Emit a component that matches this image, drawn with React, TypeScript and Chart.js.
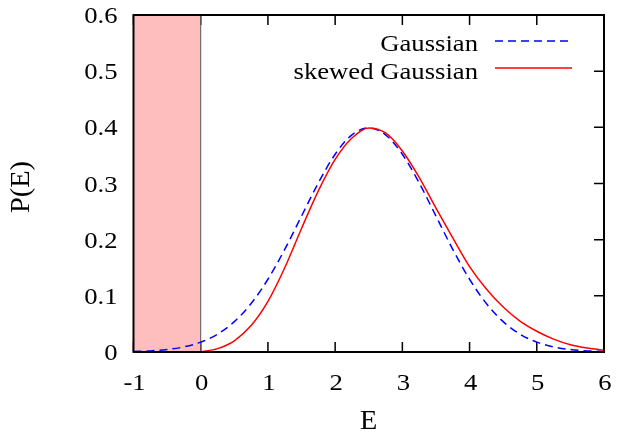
import React, { useEffect, useRef } from "react";
import { Chart, registerables } from "chart.js";

Chart.register(...registerables);

// E grid (0.25 step)
const gaussX = [-1, -0.75, -0.5, -0.25, 0, 0.25, 0.5, 0.75, 1, 1.25, 1.5, 1.75, 2, 2.25, 2.5, 2.75, 3, 3.25, 3.5, 3.75, 4, 4.25, 4.5, 4.75, 5, 5.25, 5.5, 5.75, 6];
const gaussY = [0.0009, 0.002, 0.0044, 0.0091, 0.0175, 0.0317, 0.054, 0.0863, 0.1295, 0.1827, 0.242, 0.3011, 0.3521, 0.3867, 0.3989, 0.3867, 0.3521, 0.3011, 0.242, 0.1827, 0.1295, 0.0863, 0.054, 0.0317, 0.0175, 0.0091, 0.0044, 0.002, 0.0009];

const skewX = [0, 0.25, 0.5, 0.75, 1, 1.25, 1.5, 1.75, 2, 2.25, 2.5, 2.75, 3, 3.25, 3.5, 3.75, 4, 4.25, 4.5, 4.75, 5, 5.25, 5.5, 5.75, 6];
const skewY = [0, 0.006, 0.02, 0.047, 0.09, 0.15, 0.22, 0.287, 0.343, 0.381, 0.399, 0.39, 0.358, 0.311, 0.256, 0.203, 0.152, 0.112, 0.08, 0.055, 0.037, 0.023, 0.013, 0.007, 0.003];

const shadeRange = [-1, 0];
const xTicks = [-1, 0, 1, 2, 3, 4, 5, 6];
const yTicks = [0, 0.1, 0.2, 0.3, 0.4, 0.5, 0.6];
const xTickLabels = ["-1", "0", "1", "2", "3", "4", "5", "6"];
const yTickLabels = ["0", "0.1", "0.2", "0.3", "0.4", "0.5", "0.6"];

const seriesLabels = ["Gaussian", "skewed Gaussian"];
const xTitle = "E";
const yTitle = "P(E)";
const FONT = "'Liberation Serif', 'Times New Roman', serif";
const SX = 1.16;

function txt(ctx: CanvasRenderingContext2D, s: string, x: number, y: number, align: CanvasTextAlign, size: number, sx: number, rot = 0) {
  ctx.save();
  ctx.translate(x, y);
  if (rot) ctx.rotate(rot);
  ctx.scale(sx, 1);
  ctx.font = `${size}px ${FONT}`;
  ctx.textAlign = align;
  ctx.textBaseline = "alphabetic";
  ctx.fillStyle = "#000";
  ctx.fillText(s, 0, 0);
  ctx.restore();
}

export default function App() {
  const ref = useRef<HTMLCanvasElement | null>(null);

  useEffect(() => {
    document.body.style.margin = "0";
    const canvas = ref.current!;
    const framePlugin = {
      id: "frame",
      beforeDatasetsDraw(chart: any) {
        const { ctx, chartArea: a, scales } = chart;
        ctx.save();
        ctx.strokeStyle = "#000";
        ctx.lineWidth = 1.5;
        const tl = 10;
        ctx.beginPath();
        xTicks.forEach((v) => {
          const px = scales.x.getPixelForValue(v);
          ctx.moveTo(px, a.bottom);
          ctx.lineTo(px, a.bottom - tl);
          ctx.moveTo(px, a.top);
          ctx.lineTo(px, a.top + tl);
        });
        yTicks.forEach((v) => {
          const py = scales.y.getPixelForValue(v);
          ctx.moveTo(a.left, py);
          ctx.lineTo(a.left + tl, py);
          ctx.moveTo(a.right, py);
          ctx.lineTo(a.right - tl, py);
        });
        ctx.stroke();
        ctx.restore();
      },
      afterDatasetsDraw(chart: any) {
        const { ctx, chartArea: a, scales } = chart;
        ctx.save();
        ctx.strokeStyle = "#000";
        ctx.lineWidth = 2;
        ctx.strokeRect(a.left, a.top, a.right - a.left, a.bottom - a.top);
        ctx.restore();

        // tick labels
        yTicks.forEach((v, i) => {
          const py = scales.y.getPixelForValue(v);
          txt(ctx, yTickLabels[i], a.left - 16, py + 8, "right", 23, SX);
        });
        xTicks.forEach((v, i) => {
          const px = scales.x.getPixelForValue(v);
          txt(ctx, xTickLabels[i], px + 1, a.bottom + 38, "center", 23, SX);
        });
        // axis titles
        txt(ctx, xTitle, (a.left + a.right) / 2, 429, "center", 27, 1.05);
        txt(ctx, yTitle, 29, 187, "center", 27, 1.05, -Math.PI / 2);

        // legend
        const entries = [
          { ds: chart.data.datasets[2], y: 51, ly: 41 },
          { ds: chart.data.datasets[3], y: 79, ly: 68 },
        ];
        entries.forEach((e) => {
          txt(ctx, e.ds.label, 478, e.y, "right", 23, SX);
          ctx.save();
          ctx.beginPath();
          ctx.setLineDash(e.ds.borderDash || []);
          ctx.strokeStyle = e.ds.borderColor;
          ctx.lineWidth = e.ds.borderWidth;
          ctx.moveTo(495, e.ly);
          ctx.lineTo(572, e.ly);
          ctx.stroke();
          ctx.restore();
        });
      },
    };

    const chart = new Chart(canvas, {
      type: "line",
      data: {
        datasets: [
          {
            label: "shade",
            data: shadeRange.map((x) => ({ x, y: yTicks[yTicks.length - 1] })),
            fill: "origin",
            backgroundColor: "rgb(255,190,190)",
            borderWidth: 0,
            pointRadius: 0,
            order: 10,
          },
          {
            label: "edge",
            data: [
              { x: shadeRange[1], y: 0 },
              { x: shadeRange[1], y: yTicks[yTicks.length - 1] },
            ],
            borderColor: "#555",
            borderWidth: 1,
            pointRadius: 0,
            fill: false,
            order: 9,
          },
          {
            label: seriesLabels[0],
            data: gaussX.map((x, i) => ({ x, y: gaussY[i] })),
            borderColor: "#0000ff",
            borderWidth: 1.5,
            borderDash: [8, 5],
            pointRadius: 0,
            fill: false,
            cubicInterpolationMode: "monotone",
            order: 2,
          },
          {
            label: seriesLabels[1],
            data: skewX.map((x, i) => ({ x, y: skewY[i] })),
            borderColor: "#ff0000",
            borderWidth: 1.5,
            pointRadius: 0,
            fill: false,
            cubicInterpolationMode: "monotone",
            order: 1,
          },
        ],
      },
      options: {
        responsive: false,
        animation: false,
        events: [],
        layout: { padding: { top: 15, right: 17, left: 0, bottom: 0 } },
        plugins: { legend: { display: false }, tooltip: { enabled: false } },
        scales: {
          x: {
            type: "linear",
            min: -1,
            max: 6,
            afterFit: (s: any) => {
              s.height = 80;
            },
            afterBuildTicks: (s: any) => {
              s.ticks = xTicks.map((v) => ({ value: v }));
            },
            grid: { display: false, drawTicks: false },
            border: { display: false },
            ticks: { display: false },
            title: { display: false },
          },
          y: {
            type: "linear",
            min: 0,
            max: 0.6,
            afterFit: (s: any) => {
              s.width = 133.5;
            },
            afterBuildTicks: (s: any) => {
              s.ticks = yTicks.map((v) => ({ value: v }));
            },
            grid: { display: false, drawTicks: false },
            border: { display: false },
            ticks: { display: false },
            title: { display: false },
          },
        },
      },
      plugins: [framePlugin],
    } as any);
    return () => chart.destroy();
  }, []);

  return <canvas ref={ref} width={621} height={432} style={{ display: "block" }} />;
}
